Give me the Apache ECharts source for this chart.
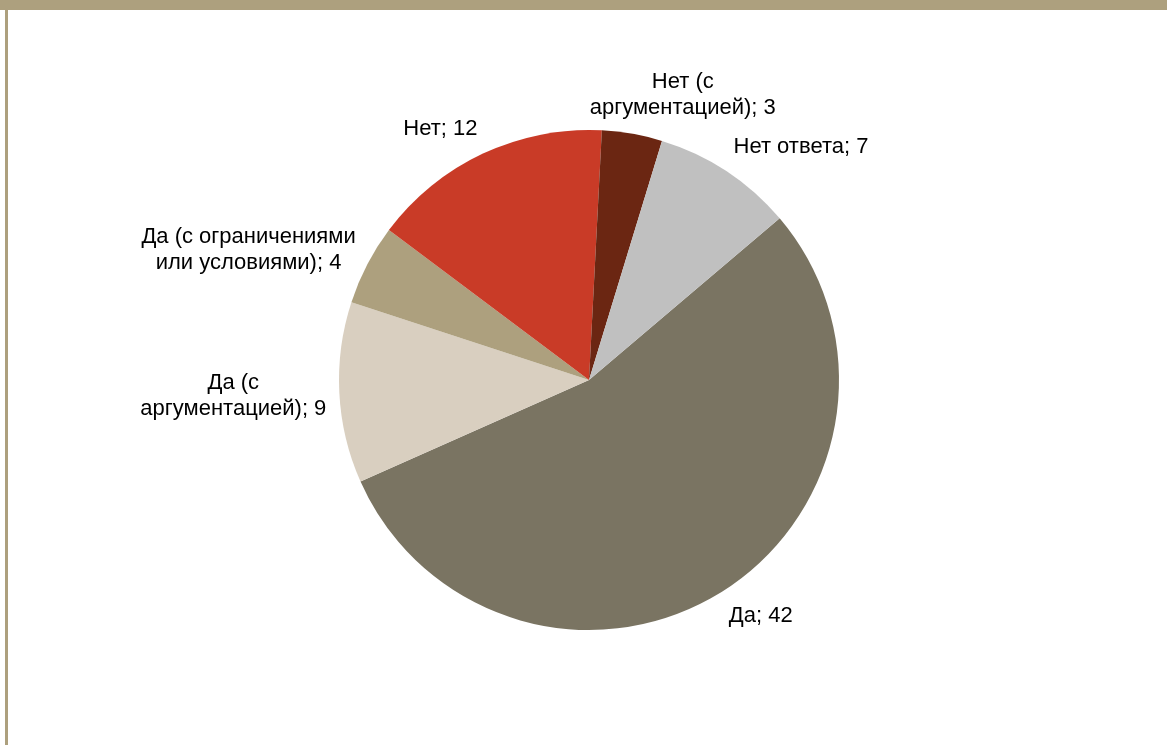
<!DOCTYPE html>
<html>
<head>
<meta charset="utf-8">
<script src="https://cdn.jsdelivr.net/npm/echarts@6/dist/echarts.min.js"></script>
<style>
  html, body { margin: 0; padding: 0; background: #fff; }
  #frameTop { position: absolute; left: 0; top: 0; width: 1167px; height: 10px; background: #ADA07E; }
  #frameLeft { position: absolute; left: 5px; top: 0; width: 3px; height: 745px; background: #ADA07E; }
  #chart { position: absolute; left: 0; top: 0; width: 1167px; height: 745px; }
</style>
</head>
<body>
<div id="chart"></div>
<div id="frameTop"></div>
<div id="frameLeft"></div>
<script>
const categories = [
  'Да',
  'Да (с\nаргументацией)',
  'Да (с ограничениями\nили условиями)',
  'Нет',
  'Нет (с\nаргументацией)',
  'Нет ответа'
];
const values = [42, 9, 4, 12, 3, 7];
const colors = ['#7A7462', '#D9CFC0', '#ADA07E', '#C93B27', '#6B2612', '#C0C0C0'];

const CX = 589, CY = 380, R = 250;

function clamp(v) { return Math.max(-1, Math.min(1, v)); }

const chart = echarts.init(document.getElementById('chart'), null, { renderer: 'canvas' });

const option = {
  animation: false,
  backgroundColor: '#ffffff',
  series: [{
    type: 'pie',
    center: [CX, CY],
    radius: [0, R],
    startAngle: 40.3,
    clockwise: true,
    avoidLabelOverlap: false,
    itemStyle: { borderWidth: 0 },
    emphasis: { disabled: true },
    label: {
      show: true,
      position: 'outside',
      formatter: p => p.name + '; ' + p.value,
      fontFamily: 'Liberation Sans, Arial, sans-serif',
      fontSize: 22,
      lineHeight: 26,
      color: '#000',
      distanceToLabelLine: 0
    },
    labelLine: { show: false, length: 13, length2: 0 },
    labelLayout: function (p) {
      const r = p.labelRect;
      const ax = p.align === 'right' ? r.x + r.width : r.x;
      const ay = r.y + r.height / 2;
      const dx = ax - CX, dy = ay - CY;
      const d = Math.sqrt(dx * dx + dy * dy) || 1;
      const s = dx / d, c = dy / d;
      const fx = clamp(3 * s);
      const fy = Math.sign(c) * Math.max(0, Math.min(1, (Math.abs(c) - 0.3) * 2));
      return {
        x: ax + fx * r.width / 2,
        y: ay + fy * r.height / 2 + (c > 0 && c < 0.3 ? 3 : 0),
        align: 'center',
        verticalAlign: 'middle'
      };
    },
    data: categories.map((n, i) => ({ name: n, value: values[i], itemStyle: { color: colors[i] } }))
  }]
};
chart.setOption(option);
</script>
</body>
</html>
